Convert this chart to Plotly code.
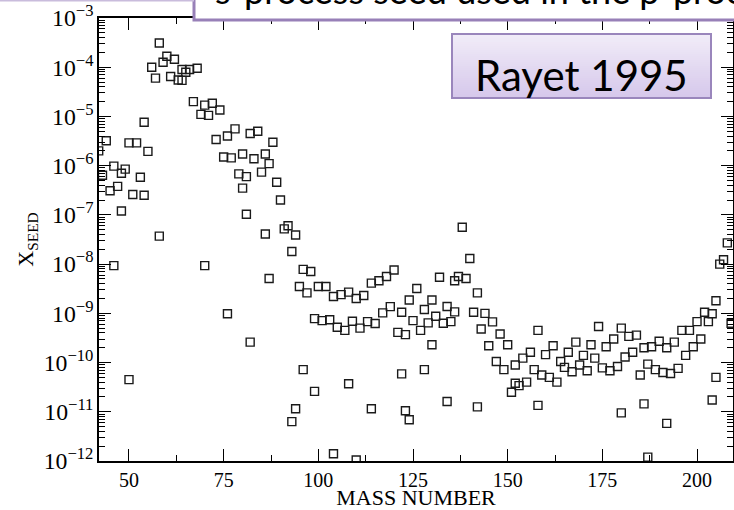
import plotly.graph_objects as go

# Seed mass fractions X_SEED versus mass number A
mass = [
    42, 43, 44, 45, 46, 46, 47, 48, 48, 49, 50, 50, 51, 52, 53, 54, 54, 55,
    56, 57, 58, 58, 59, 60, 61, 62, 63, 64, 64, 65, 66, 67, 68, 69, 70, 70,
    71, 72, 73, 74, 75, 76, 76, 77, 78, 79, 80, 80, 81, 81, 82, 82, 83, 84,
    85, 86, 86, 87, 87, 88, 89, 90, 91, 92, 93, 93, 94, 94, 95, 96, 96, 97,
    98, 99, 99, 100, 101, 102, 103, 104, 104, 105, 106, 107, 108, 108, 109,
    110, 110, 111, 112, 113, 114, 114, 115, 116, 117, 118, 119, 120, 121,
    122, 122, 123, 123, 124, 124, 125, 126, 127, 128, 128, 129, 130, 130,
    131, 132, 133, 134, 134, 135, 136, 136, 137, 138, 139, 140, 141, 142,
    142, 143, 144, 145, 146, 147, 148, 149, 150, 151, 152, 152, 153, 154,
    155, 156, 157, 158, 158, 159, 160, 161, 162, 163, 164, 165, 166, 167,
    168, 169, 170, 171, 172, 173, 174, 175, 176, 177, 178, 179, 180, 180,
    181, 182, 183, 184, 185, 186, 186, 187, 187, 188, 189, 190, 191, 192,
    192, 193, 194, 195, 196, 197, 198, 199, 200, 201, 202, 203, 204, 204,
    205, 205, 206, 207, 208, 209,
]
x_seed = [
    2.0e-6, 6.4e-7, 3.2e-6, 3.1e-7, 9.8e-7, 9.3e-9, 3.8e-7, 7.0e-7, 1.2e-7,
    8.5e-7, 2.9e-6, 4.5e-11, 2.6e-7, 2.9e-6, 5.8e-7, 7.6e-6, 2.5e-7, 1.95e-6,
    1.0e-4, 6.0e-5, 3.1e-4, 3.7e-8, 1.26e-4, 1.67e-4, 6.5e-5, 1.45e-4, 5.5e-5,
    5.4e-5, 9.0e-5, 7.9e-5, 9.0e-5, 2.0e-5, 9.5e-5, 1.1e-5, 1.7e-5, 9.3e-9,
    1.05e-5, 1.85e-5, 3.4e-6, 1.35e-5, 1.5e-6, 4.0e-6, 9.8e-10, 1.44e-6,
    5.6e-6, 6.8e-7, 1.73e-6, 3.5e-7, 6.0e-7, 1.03e-7, 4.5e-6, 2.6e-10,
    1.38e-6, 5.0e-6, 7.4e-7, 1.73e-6, 4.1e-8, 1.1e-6, 5.1e-9, 3.0e-6, 4.6e-7,
    2.0e-7, 5.2e-8, 6.0e-8, 1.8e-8, 6.3e-12, 3.9e-8, 1.15e-11, 3.5e-9, 7.8e-9,
    7.2e-11, 2.6e-9, 7.1e-9, 7.8e-10, 2.6e-11, 3.5e-9, 7.1e-10, 3.5e-9,
    7.4e-10, 2.2e-9, 1.4e-12, 5.2e-10, 2.4e-9, 4.5e-10, 2.7e-9, 3.7e-11,
    6.9e-10, 2.0e-9, 1.05e-12, 5.0e-10, 2.3e-9, 6.8e-10, 4.1e-9, 1.15e-11,
    6.2e-10, 4.6e-9, 1.02e-9, 5.6e-9, 1.37e-9, 7.6e-9, 4.1e-10, 1.05e-9,
    5.9e-11, 3.7e-10, 1.05e-11, 1.86e-9, 6.9e-12, 7.1e-10, 3.2e-9, 4.5e-10,
    1.2e-9, 7.2e-11, 6.4e-10, 1.86e-9, 2.3e-10, 8.7e-10, 5.4e-9, 6.3e-10,
    1.38e-9, 1.62e-11, 6.8e-10, 4.6e-9, 1.07e-9, 5.6e-9, 5.6e-8, 5.1e-9,
    1.3e-8, 1.05e-9, 2.6e-9, 1.26e-11, 4.8e-10, 1.0e-9, 2.2e-10, 6.7e-10,
    1.05e-10, 3.8e-10, 7.2e-11, 2.3e-10, 2.5e-11, 8.9e-11, 3.8e-11, 3.4e-11,
    1.23e-10, 4.0e-11, 1.62e-10, 7.2e-11, 4.5e-10, 1.35e-11, 5.6e-11,
    1.45e-10, 5.0e-11, 2.2e-10, 4.0e-11, 1.05e-10, 8.0e-11, 1.62e-10,
    6.5e-11, 2.6e-10, 8.9e-11, 1.4e-10, 6.8e-11, 2.3e-10, 1.23e-10, 5.4e-10,
    7.8e-11, 2.1e-10, 6.8e-11, 3.0e-10, 8.3e-11, 5.0e-10, 9.5e-12, 1.3e-10,
    3.4e-10, 1.62e-10, 3.6e-10, 5.6e-11, 1.45e-11, 2.0e-10, 9.3e-11, 1.2e-12,
    2.1e-10, 7.2e-11, 2.7e-10, 6.3e-11, 2.0e-10, 5.8e-12, 6.0e-11, 2.6e-10,
    7.6e-11, 4.5e-10, 1.4e-10, 4.5e-10, 2.1e-10, 6.8e-10, 3.0e-10, 1.05e-9,
    6.8e-10, 9.8e-10, 1.74e-11, 1.8e-9, 5.0e-11, 1.0e-8, 1.23e-8, 2.7e-8,
    6.3e-10,
]

x_range = [42.08, 209.5]
y_range_exp = [-12, -3]
x_title = "MASS NUMBER"
y_title = "X<sub>SEED</sub>"
note_text = "Rayet 1995"
banner_text = "s-process seed used in the p-process"

W, H = 734, 510
ML, MR, MT, MB = 99, 1, 18, 49
PW, PH = W - ML - MR, H - MT - MB


def px_x(px):
    return (px - ML) / PW


def px_y(py):
    return (H - MB - py) / PH


serif = "Liberation Serif"
sans = "Lato"

fig = go.Figure(
    go.Scatter(
        x=mass,
        y=x_seed,
        mode="markers",
        marker=dict(symbol="square-open", size=8, color="#1a1a1a",
                    line=dict(width=1.4)),
        hoverinfo="x+y",
    )
)

fig.update_xaxes(
    range=x_range, tick0=50, dtick=25,
    showline=True, linewidth=1.5, linecolor="black", mirror="ticks",
    ticks="inside", ticklen=12, tickwidth=1.2, tickcolor="black",
    showgrid=False, zeroline=False,
    tickfont=dict(family=serif, size=20, color="black"),
    minor=dict(ticks="inside", ticklen=6, tickwidth=1.2, tickcolor="black",
               tick0=50, dtick=12.5, showgrid=False),
    title=dict(text=x_title, font=dict(family=serif, size=22, color="black"),
               standoff=6),
)
fig.update_yaxes(
    type="log", range=y_range_exp, dtick=1,
    exponentformat="power", showexponent="all",
    showline=True, linewidth=1.5, linecolor="black", mirror="ticks",
    ticks="inside", ticklen=12, tickwidth=1.2, tickcolor="black",
    showgrid=False, zeroline=False,
    tickfont=dict(family=serif, size=19, color="black"),
    minor=dict(ticks="inside", ticklen=6, tickwidth=1.2, tickcolor="black",
               dtick="D1", showgrid=False),
    title=dict(text=y_title, font=dict(family=serif, size=22, color="black"),
               standoff=4),
)

shapes = []

# banner box running off the top and right of the page
shapes.append(dict(type="rect", xref="paper", yref="paper",
                   x0=px_x(194), x1=px_x(760), y0=px_y(20), y1=px_y(-60),
                   fillcolor="white", line=dict(color="#9880b8", width=3),
                   layer="above"))
shapes.append(dict(type="rect", xref="paper", yref="paper",
                   x0=px_x(-10), x1=px_x(194), y0=px_y(1.5), y1=px_y(-10),
                   fillcolor="#c9bcdc", line=dict(width=0), layer="above"))

# gradient-filled label box
bx0, bx1, by0, by1 = 452, 711, 34, 98
n_strips = 32
top_rgb = (241, 236, 248)
bot_rgb = (214, 200, 235)
for i in range(n_strips):
    t = i / (n_strips - 1)
    c = tuple(round(a + (b - a) * t) for a, b in zip(top_rgb, bot_rgb))
    ya = by0 + (by1 - by0) * i / n_strips
    yb = by0 + (by1 - by0) * (i + 1) / n_strips
    shapes.append(dict(type="rect", xref="paper", yref="paper",
                       x0=px_x(bx0), x1=px_x(bx1), y0=px_y(yb + 0.5), y1=px_y(ya),
                       fillcolor="rgb(%d,%d,%d)" % c, line=dict(width=0),
                       layer="above"))
shapes.append(dict(type="rect", xref="paper", yref="paper",
                   x0=px_x(bx0), x1=px_x(bx1), y0=px_y(by1), y1=px_y(by0),
                   fillcolor="rgba(0,0,0,0)", line=dict(color="#9a86bc", width=2),
                   layer="above"))

annotations = [
    dict(text=note_text, xref="paper", yref="paper",
         x=px_x((bx0 + bx1) / 2), y=px_y(75), xanchor="center", yanchor="middle",
         showarrow=False, font=dict(family=sans, size=42, color="black")),
    dict(text=banner_text, xref="paper", yref="paper",
         x=px_x(213), y=px_y(10), yshift=-4, xanchor="left", yanchor="bottom",
         showarrow=False, font=dict(family=sans, size=36, color="black")),
]

fig.update_layout(
    width=W, height=H,
    margin=dict(l=ML, r=MR, t=MT, b=MB, autoexpand=False),
    paper_bgcolor="white", plot_bgcolor="white",
    font=dict(family=serif, color="black"),
    showlegend=False,
    shapes=shapes, annotations=annotations,
)

fig.write_html("out.html")
